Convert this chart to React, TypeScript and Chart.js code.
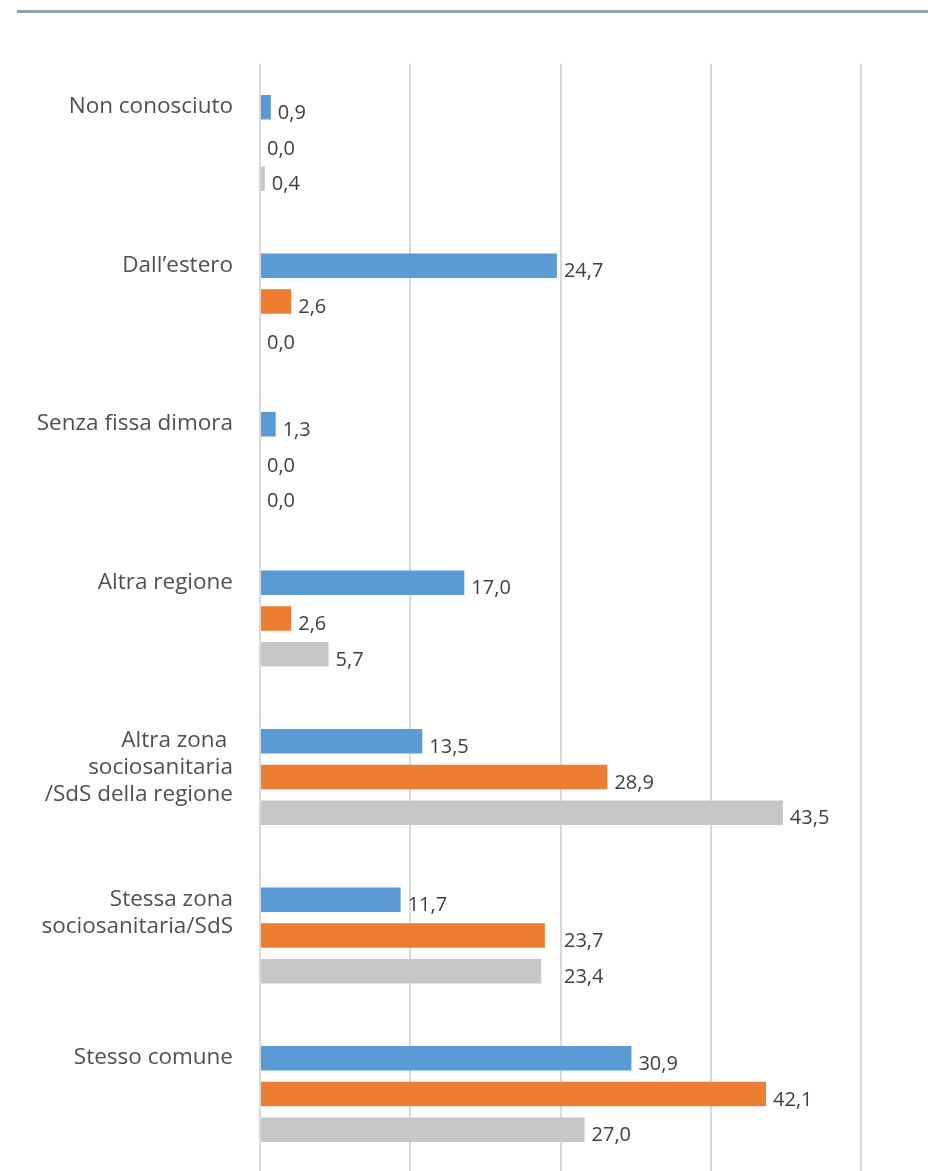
import React, { useEffect, useRef } from "react";
import { Chart, registerables } from "chart.js";

Chart.register(...registerables);

const categories: string[][] = [
  ["Non conosciuto"],
  ["Dall’estero"],
  ["Senza fissa dimora"],
  ["Altra regione"],
  ["Altra zona ", "sociosanitaria", "/SdS della regione"],
  ["Stessa zona", "sociosanitaria/SdS"],
  ["Stesso comune"],
];

const seriesNames = ["Serie 1", "Serie 2", "Serie 3"];
const seriesBlue = [0.9, 24.7, 1.3, 17.0, 13.5, 11.7, 30.9];
const seriesOrange = [0.0, 2.6, 0.0, 2.6, 28.9, 23.7, 42.1];
const seriesGray = [0.4, 0.0, 0.0, 5.7, 43.5, 23.4, 27.0];

const axisMin = 0;
const axisMax = 50;
const axisStep = 12.5;

const colors = ["#5B9BD5", "#ED7D31", "#C6C6C6"];
const FONT = "'Open Sans', 'Noto Sans', sans-serif";

const fmt = (v: number) => v.toFixed(1).replace(".", ",");

const labelsPlugin = {
  id: "customLabels",
  afterDatasetsDraw(chart: any) {
    const ctx = chart.ctx as CanvasRenderingContext2D;
    const xScale = chart.scales.x;
    ctx.save();
    // value labels
    ctx.font = `20px ${FONT}`;
    ctx.fillStyle = "#404040";
    ctx.textAlign = "left";
    ctx.textBaseline = "alphabetic";
    chart.data.datasets.forEach((ds: any, di: number) => {
      const meta = chart.getDatasetMeta(di);
      meta.data.forEach((el: any, i: number) => {
        const v = ds.data[i] as number;
        let x = el.x + 7;
        // labels just short of the 25 gridline sit past it, as in the source
        if (v >= 22 && v < 24.5) x = xScale.getPixelForValue(25) + 3.5;
        ctx.fillText(fmt(v), x, el.y + 11.5);
      });
    });
    // category labels, first line aligned with the first series bar
    ctx.font = `22.5px ${FONT}`;
    ctx.fillStyle = "#505050";
    ctx.textAlign = "right";
    const meta0 = chart.getDatasetMeta(0);
    categories.forEach((lines, i) => {
      const el = meta0.data[i];
      lines.forEach((line, li) => {
        ctx.fillText(line, 233, el.y + 6 + li * 27);
      });
    });
    ctx.restore();
  },
};

export default function App() {
  const ref = useRef<HTMLCanvasElement | null>(null);
  useEffect(() => {
    if (!ref.current) return;
    const chart = new Chart(ref.current, {
      type: "bar",
      data: {
        labels: categories.map((c) => c.join(" ")),
        datasets: [seriesBlue, seriesOrange, seriesGray].map((d, i) => ({
          label: seriesNames[i],
          data: d,
          backgroundColor: colors[i],
          borderWidth: 0,
          categoryPercentage: 0.676,
          barPercentage: 0.69,
        })),
      },
      options: {
        indexAxis: "y",
        animation: false,
        responsive: false,
        devicePixelRatio: 1,
        layout: { padding: { left: 260, right: 67, top: 63.75, bottom: 11.75 } },
        plugins: {
          legend: { display: false },
          tooltip: { enabled: false },
        },
        scales: {
          x: {
            min: axisMin,
            max: axisMax,
            ticks: { display: false, stepSize: axisStep },
            grid: { color: "#D9D9D9", lineWidth: 2, drawTicks: false },
            border: { display: false },
          },
          y: {
            display: false,
          },
        },
      },
      plugins: [labelsPlugin],
    });
    return () => chart.destroy();
  }, []);

  return (
    <div
      style={{
        position: "fixed",
        left: 0,
        top: 0,
        width: 928,
        height: 1171,
        overflow: "hidden",
        background: "#FFFFFF",
      }}
    >
      <div
        style={{
          position: "absolute",
          left: 17,
          top: 10,
          width: 911,
          height: 3,
          background: "#8FA2B1",
        }}
      />
      <canvas
        ref={ref}
        width={928}
        height={1185}
        style={{ position: "absolute", left: 0, top: 0, width: 928, height: 1185 }}
      />
    </div>
  );
}
